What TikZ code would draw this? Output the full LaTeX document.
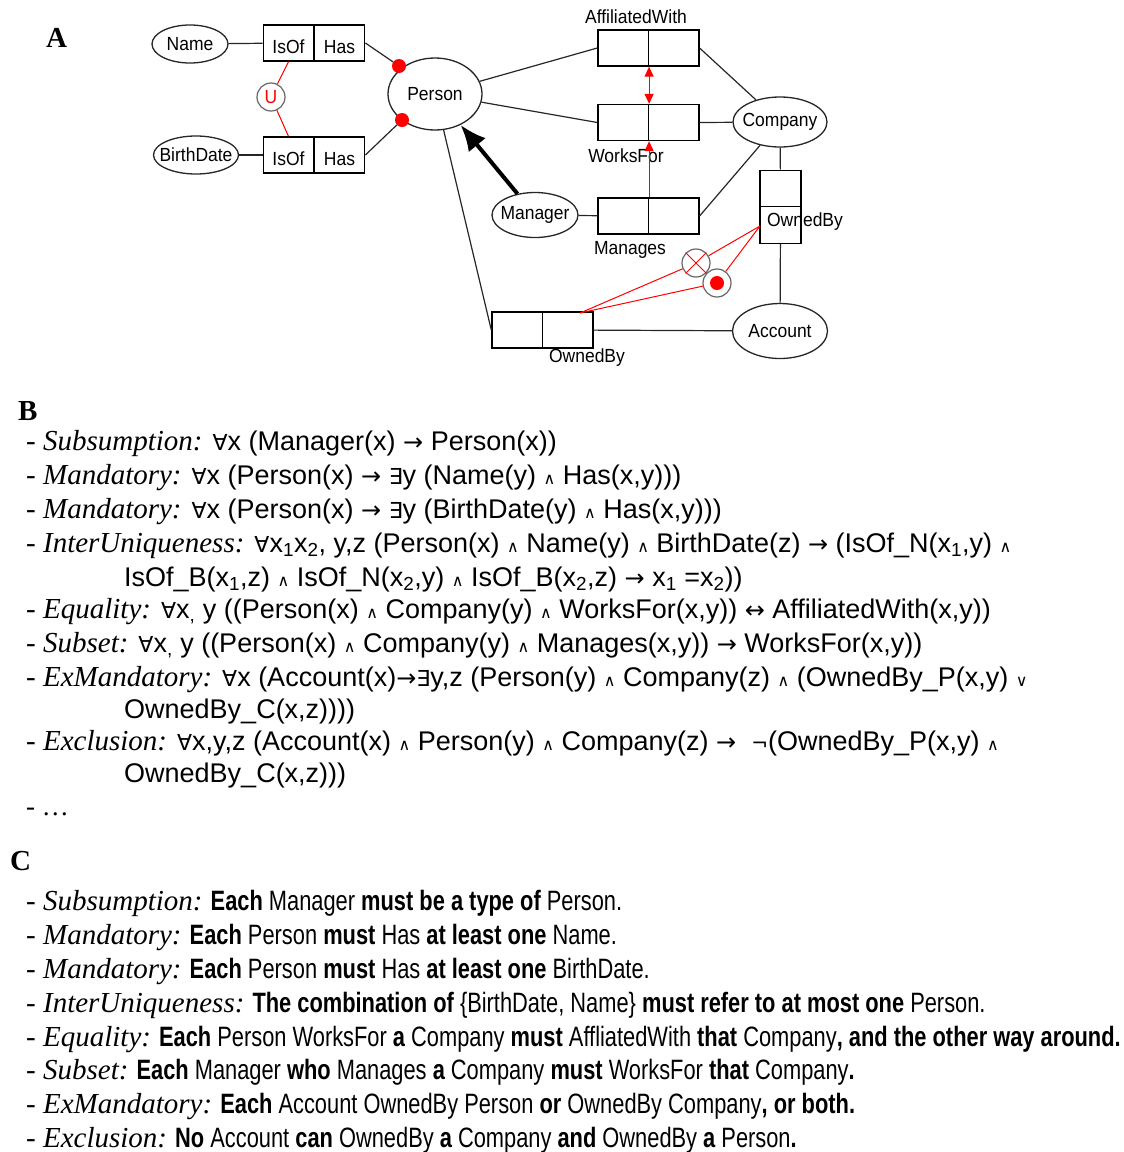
\documentclass[tikz,border=0pt]{standalone}
\usepackage{fontspec}
\setmainfont{Liberation Serif}
\setsansfont{Liberation Sans}
\newfontfamily\ormfont[FakeStretch=0.92]{Liberation Sans}
\newfontfamily\narrowsf[FakeStretch=0.78]{Liberation Sans}
\newfontfamily\symfont{DejaVu Sans}
\usepackage{tikz}
\usetikzlibrary{shapes.geometric, arrows.meta, calc}

\newcommand{\entname}[1]{\makebox[0pt]{#1}}
\newcommand{\rl}[1]{{\rmfamily\fontsize{29}{34}\selectfont - \itshape #1}}
\newcommand{\fa}{{\symfont\fontsize{22}{34}\selectfont ∀}}
\newcommand{\exs}{{\symfont\fontsize{22}{34}\selectfont ∃}}
\newcommand{\conj}{{\symfont\fontsize{16}{34}\selectfont ∧}}
\newcommand{\disj}{{\symfont\fontsize{16}{34}\selectfont ∨}}
\newcommand{\imp}{{\symfont\fontsize{24}{34}\selectfont →}}
\newcommand{\eqv}{{\symfont\fontsize{24}{34}\selectfont ↔}}
\newcommand{\negn}{{\symfont\fontsize{20}{34}\selectfont ¬}}
\newcommand{\bw}[1]{{\bfseries #1}}

\begin{document}
\begin{tikzpicture}[
    x=1pt, y=-1pt,
    ormtext/.style={font=\ormfont\fontsize{19}{22}\selectfont},
    entity/.style={ellipse, draw=black!85, line width=1.3pt, inner sep=0pt, ormtext},
    role/.style={rectangle, draw, line width=1.3pt, minimum width=50.5pt, minimum height=36pt, inner sep=0pt, text height=21pt, text depth=0pt, ormtext},
    vrole/.style={rectangle, draw, line width=1.3pt, minimum width=41pt, minimum height=36.5pt, inner sep=0pt},
    mand/.style={circle, fill=red, minimum size=14pt, inner sep=0pt},
    cons/.style={circle, draw=black!60, line width=1.2pt, minimum size=28pt, inner sep=0pt, ormtext},
    link/.style={draw, line width=1.2pt, color=black!85},
    redlink/.style={draw, line width=1pt, color=red},
    subtype/.style={draw, line width=4pt, -{Latex[length=26pt, width=22pt]}},
    redarrow/.style={draw, line width=1.2pt, color=red},
    rule/.style={anchor=base west, inner sep=0pt, font=\fontsize{27}{34}\sffamily},
    verbal/.style={anchor=base west, inner sep=0pt, font=\narrowsf\fontsize{28}{34}\selectfont},
    panel/.style={anchor=base west, inner sep=0pt, font=\fontsize{29}{34}\rmfamily\bfseries}
]
    \useasboundingbox (0,0) rectangle (1124,1152);

    % Panel letters
    \node (pa) [panel] at (46,47) {A};
    \node (pb) [panel] at (18,420) {B};
    \node (pc) [panel] at (10,870) {C};

    % Entity types
    \node (name) [entity, minimum width=76pt, minimum height=38pt] at (190,44) {\entname{Name}};
    \node (bdate) [entity, minimum width=85pt, minimum height=38pt] at (196,155) {\entname{BirthDate}};
    \node (person) [entity, minimum width=94pt, minimum height=72pt] at (435,94) {\entname{Person}};
    \node (company) [entity, minimum width=94pt, minimum height=50pt] at (780,122) {\entname{Company}};
    \node (manager) [entity, minimum width=86pt, minimum height=45pt] at (535,215) {\entname{Manager}};
    \node (account) [entity, minimum width=95pt, minimum height=55pt] at (780,331) {\entname{Account}};

    % Fact types
    \node (nm_isof) [role] at (288.5,43) {IsOf};
    \node (nm_has) [role] at (339.5,43) {Has};
    \node (bd_isof) [role] at (288.5,155) {IsOf};
    \node (bd_has) [role] at (339.5,155) {Has};
    \node (aff_l) [role] at (623.2,48) {};
    \node (aff_r) [role] at (673.7,48) {};
    \node (wf_l) [role] at (623.2,122.5) {};
    \node (wf_r) [role] at (673.7,122.5) {};
    \node (mg_l) [role] at (623.2,216) {};
    \node (mg_r) [role] at (673.7,216) {};
    \node (obp_l) [role] at (517.2,330) {};
    \node (obp_r) [role] at (567.7,330) {};
    \node (obc_t) [vrole] at (780.5,188.5) {};
    \node (obc_b) [vrole] at (780.5,225) {};

    % Fact type names
    \node (aff_lbl) [ormtext] at (636,17) {AffiliatedWith};
    \node (wf_lbl) [ormtext] at (626,156) {WorksFor};
    \node (mg_lbl) [ormtext] at (630,250) {Manages};
    \node (obp_lbl) [ormtext] at (587,358) {OwnedBy};
    \node (obc_lbl) [ormtext] at (805,222) {OwnedBy};

    % Constraints
    \node (uniq) [cons] at (271,97) {\textcolor{red}{U}};
    \node (mand_n) [mand] at (399,66) {};
    \node (mand_b) [mand] at (402,120) {};
    \node (excl) [cons] at (696,263) {};
    \node (exmand) [cons] at (717,283) {};
    \draw [redlink] (excl.45) -- (excl.225) (excl.135) -- (excl.315);
    \fill [red] (exmand.center) circle (7);
    \coordinate (obp_tip) at (580,313);
    \coordinate (obc_tip) at (760,226);

    % Connectors
    \draw [link] (name) -- (nm_isof);
    \draw [link] (bdate) -- (bd_isof);
    \draw [link] (nm_has.east) -- (mand_n);
    \draw [link] (bd_has.east) -- (mand_b);
    \draw [link] (person) -- (aff_l.west);
    \draw [link] (person) -- (wf_l.west);
    \draw [link] (person) -- (obp_l.west);
    \draw [link] (aff_r.east) -- (company);
    \draw [link] (wf_r.east) -- (company);
    \draw [link] (mg_r.east) -- (company);
    \draw [link] (manager) -- (mg_l);
    \draw [link] (company) -- (obc_t);
    \draw [link] (obc_b) -- (account);
    \draw [link] (obp_r) -- (account);
    \draw [subtype] (manager) -- (person);

    \draw [redlink] (nm_isof.south) -- (uniq);
    \draw [redlink] (uniq) -- (bd_isof.north);
    \draw [redarrow, {Triangle[length=10pt, width=9pt]}-{Triangle[length=10pt, width=9pt]}] (aff_l.south east) -- (wf_l.north east);
    \draw [redarrow, -{Triangle[length=10pt, width=9pt]}] (mg_l.north east) -- (wf_l.south east);
    \draw [redlink] (obp_tip) -- (excl);
    \draw [redlink] (excl) -- (obc_tip);
    \draw [redlink] (obp_tip) -- (exmand);
    \draw [redlink] (exmand) -- (obc_tip);

    % Formal rules
    \node (b1) [rule] at (26,450) {\rl{Subsumption:} \fa x (Manager(x) \imp\ Person(x))};
    \node (b2) [rule] at (26,484) {\rl{Mandatory:} \fa x (Person(x) \imp\ \exs y (Name(y) \conj\ Has(x,y)))};
    \node (b3) [rule] at (26,518) {\rl{Mandatory:} \fa x (Person(x) \imp\ \exs y (BirthDate(y) \conj\ Has(x,y)))};
    \node (b4) [rule] at (26,552) {\rl{InterUniqueness:} \fa x\textsubscript{1}x\textsubscript{2}, y,z (Person(x) \conj\ Name(y) \conj\ BirthDate(z) \imp\ (IsOf\_N(x\textsubscript{1},y) \conj};
    \node (b4b) [rule] at (124,586) {IsOf\_B(x\textsubscript{1},z) \conj\ IsOf\_N(x\textsubscript{2},y) \conj\ IsOf\_B(x\textsubscript{2},z) \imp\ x\textsubscript{1} =x\textsubscript{2}))};
    \node (b5) [rule] at (26,618) {\rl{Equality:} \fa x\textsubscript{,} y ((Person(x) \conj\ Company(y) \conj\ WorksFor(x,y)) \eqv\ AffiliatedWith(x,y))};
    \node (b6) [rule] at (26,652) {\rl{Subset:} \fa x\textsubscript{,} y ((Person(x) \conj\ Company(y) \conj\ Manages(x,y)) \imp\ WorksFor(x,y))};
    \node (b7) [rule] at (26,686) {\rl{ExMandatory:} \fa x (Account(x)\imp\exs y,z (Person(y) \conj\ Company(z) \conj\ (OwnedBy\_P(x,y) \disj};
    \node (b7b) [rule] at (124,718) {OwnedBy\_C(x,z))))};
    \node (b8) [rule] at (26,750) {\rl{Exclusion:} \fa x,y,z (Account(x) \conj\ Person(y) \conj\ Company(z) \imp\ \ \negn(OwnedBy\_P(x,y) \conj};
    \node (b8b) [rule] at (124,782) {OwnedBy\_C(x,z)))};
    \node (b9) [rule] at (26,815) {\rmfamily - …};

    % Verbalizations
    \node (c1) [verbal] at (26,910) {\rl{Subsumption:} \bw{Each} Manager \bw{must be a type of} Person.};
    \node (c2) [verbal] at (26,944) {\rl{Mandatory:} \bw{Each} Person \bw{must} Has \bw{at least one} Name.};
    \node (c3) [verbal] at (26,978) {\rl{Mandatory:} \bw{Each} Person \bw{must} Has \bw{at least one} BirthDate.};
    \node (c4) [verbal] at (26,1012) {\rl{InterUniqueness:} \bw{The combination of} \{BirthDate, Name\} \bw{must refer to at most one} Person.};
    \node (c5) [verbal] at (26,1046) {\rl{Equality:} \bw{Each} Person WorksFor \bw{a} Company \bw{must} AffliatedWith \bw{that} Company\bw{, and the other way around.}};
    \node (c6) [verbal] at (26,1079) {\rl{Subset:} \bw{Each} Manager \bw{who} Manages \bw{a} Company \bw{must} WorksFor \bw{that} Company\bw{.}};
    \node (c7) [verbal] at (26,1113) {\rl{ExMandatory:} \bw{Each} Account OwnedBy Person \bw{or} OwnedBy Company\bw{, or both.}};
    \node (c8) [verbal] at (26,1147) {\rl{Exclusion:} \bw{No} Account \bw{can} OwnedBy \bw{a} Company \bw{and} OwnedBy \bw{a} Person\bw{.}};

\end{tikzpicture}
\end{document}
